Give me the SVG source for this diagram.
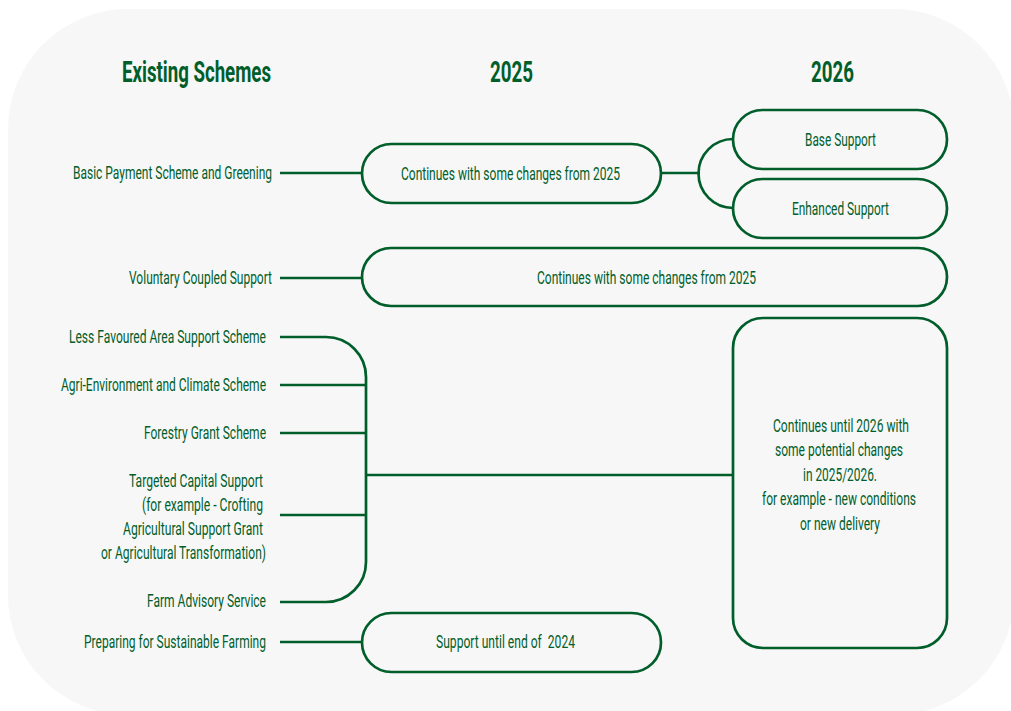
<svg xmlns="http://www.w3.org/2000/svg" width="1011" height="711" viewBox="0 0 1011 711">
<style>
  .bg { fill: #f7f7f7; }
  .node { fill: #f7f7f7; stroke: #005e2b; stroke-width: 2.7; }
  .conn { fill: none; stroke: #005e2b; stroke-width: 2.7; }
  text { font-family: "Roboto", "Liberation Sans", sans-serif; fill: #005e2b; font-size: 18px; }
  .hdr { font-size: 30px; font-weight: bold; }
</style>
<rect class="bg" x="8" y="9" width="1006" height="706" rx="120" ry="120"/>

<g id="headers">
  <text class="hdr" x="122" y="82" textLength="149" lengthAdjust="spacingAndGlyphs">Existing Schemes</text>
  <text class="hdr" x="490" y="82" textLength="43" lengthAdjust="spacingAndGlyphs">2025</text>
  <text class="hdr" x="811" y="82" textLength="43" lengthAdjust="spacingAndGlyphs">2026</text>
</g>

<g id="connectors">
  <path class="conn" d="M280 173 H362"/>
  <path class="conn" d="M661 173 H700"/>
  <path class="conn" d="M733 139 A34.5 34.5 0 0 0 733 208"/>
  <path class="conn" d="M280 278 H362"/>
  <path class="conn" d="M280 337 H326 A40 40 0 0 1 366 377 V562 A40 40 0 0 1 326 602 H280"/>
  <path class="conn" d="M280 385 H366"/>
  <path class="conn" d="M280 433 H366"/>
  <path class="conn" d="M280 515 H366"/>
  <path class="conn" d="M366 475 H733"/>
  <path class="conn" d="M280 642 H362"/>
</g>

<g id="label-bps"><text x="73" y="179" textLength="199" lengthAdjust="spacingAndGlyphs">Basic Payment Scheme and Greening</text></g>
<g id="label-vcs"><text x="129" y="284" textLength="143" lengthAdjust="spacingAndGlyphs">Voluntary Coupled Support</text></g>
<g id="label-lfass"><text x="69" y="343" textLength="197" lengthAdjust="spacingAndGlyphs">Less Favoured Area Support Scheme</text></g>
<g id="label-aecs"><text x="61" y="391" textLength="205" lengthAdjust="spacingAndGlyphs">Agri-Environment and Climate Scheme</text></g>
<g id="label-fgs"><text x="144" y="439" textLength="122" lengthAdjust="spacingAndGlyphs">Forestry Grant Scheme</text></g>
<g id="label-tcs">
  <text x="129" y="487" textLength="134" lengthAdjust="spacingAndGlyphs">Targeted Capital Support</text>
  <text x="142" y="511" textLength="121" lengthAdjust="spacingAndGlyphs">(for example - Crofting</text>
  <text x="123" y="535" textLength="140" lengthAdjust="spacingAndGlyphs">Agricultural Support Grant</text>
  <text x="101" y="559" textLength="165" lengthAdjust="spacingAndGlyphs">or Agricultural Transformation)</text>
</g>
<g id="label-fas"><text x="147" y="607" textLength="119" lengthAdjust="spacingAndGlyphs">Farm Advisory Service</text></g>
<g id="label-psf"><text x="84" y="648" textLength="182" lengthAdjust="spacingAndGlyphs">Preparing for Sustainable Farming</text></g>

<g id="node-bps-2025">
  <rect class="node" x="362" y="144" width="299" height="59" rx="29.5"/>
  <text x="401" y="180" textLength="219" lengthAdjust="spacingAndGlyphs">Continues with some changes from 2025</text>
</g>
<g id="node-base">
  <rect class="node" x="733" y="110" width="214" height="59" rx="29.5"/>
  <text x="805" y="146" textLength="71" lengthAdjust="spacingAndGlyphs">Base Support</text>
</g>
<g id="node-enhanced">
  <rect class="node" x="733" y="179" width="214" height="59" rx="29.5"/>
  <text x="792" y="215" textLength="97" lengthAdjust="spacingAndGlyphs">Enhanced Support</text>
</g>
<g id="node-vcs">
  <rect class="node" x="362" y="248" width="585" height="58" rx="29"/>
  <text x="537" y="284" textLength="219" lengthAdjust="spacingAndGlyphs">Continues with some changes from 2025</text>
</g>
<g id="node-continues-2026">
  <rect class="node" x="733" y="318" width="214" height="330" rx="30"/>
  <text x="773" y="432" textLength="136" lengthAdjust="spacingAndGlyphs">Continues until 2026 with</text>
  <text x="775" y="456" textLength="128" lengthAdjust="spacingAndGlyphs">some potential changes</text>
  <text x="803" y="481" textLength="74" lengthAdjust="spacingAndGlyphs">in 2025/2026.</text>
  <text x="762" y="505" textLength="154" lengthAdjust="spacingAndGlyphs">for example - new conditions</text>
  <text x="800" y="530" textLength="80" lengthAdjust="spacingAndGlyphs">or new delivery</text>
</g>
<g id="node-psf">
  <rect class="node" x="362" y="613" width="299" height="59" rx="29.5"/>
  <text x="436" y="648" textLength="139" lengthAdjust="spacingAndGlyphs" xml:space="preserve">Support until end of  2024</text>
</g>
</svg>
